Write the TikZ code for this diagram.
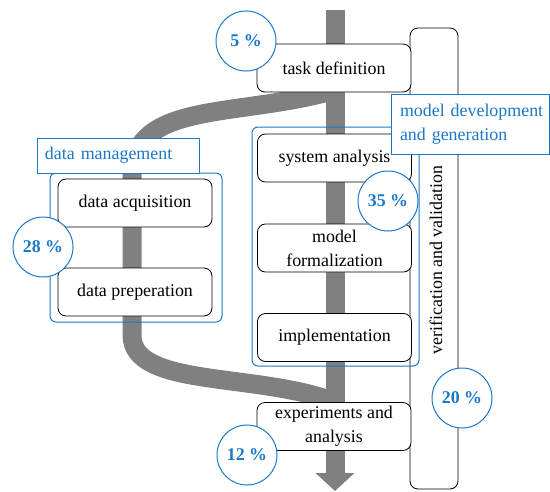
\documentclass[tikz,border=0pt]{standalone}
\usepackage{fontspec}
\setmainfont{Liberation Serif}
\usetikzlibrary{arrows.meta}
\definecolor{phaseblue}{RGB}{26,120,200}
\begin{document}
\begin{tikzpicture}[x=1pt, y={(0pt,-1pt)}, font=\fontsize{17.9}{24}\selectfont]
    \useasboundingbox (0,0) rectangle (550,491);

    \coordinate (top) at (335,10);
    \coordinate (bottom) at (335,491);
    \coordinate (fork) at (335,90);
    \coordinate (dmtop) at (132,175);
    \coordinate (dmbot) at (132,335);
    \coordinate (join) at (335,402);

    % process flow
    \draw[line width=19pt, gray, -{Triangle[width=38pt, length=18pt]}] (top) -- (bottom);
    \draw[line width=19pt, gray] (fork) .. controls (240,118) and (132,100) .. (dmtop) -- (dmbot)
        .. controls (132,388) and (255,372) .. (join);

    \draw[rounded corners=8pt, fill=white, line width=0.8pt] (410,28) rectangle (458,489);
    \node[rotate=90] (vv) at (436,260) {verification and validation};

    \begin{scope}[
            every node/.style={draw, fill=white, rounded corners=8pt, line width=0.8pt,
                minimum width=154pt, minimum height=48pt, align=center, inner sep=2pt}
        ]
        \node (task) at (334,68) {task definition};
        \node (acq) at (135,203) {data acquisition};
        \node (prep) at (135,292) {data preperation};
        \node (sys) at (334.5,158) {system analysis};
        \node (form) at (334.5,248) {model\\formalization};
        \node (impl) at (334.5,337.5) {implementation};
        \node (exp) at (334,426.5) {experiments and\\analysis};
    \end{scope}

    % phase groups
    \begin{scope}[every node/.style={draw=phaseblue, line width=1pt, rounded corners=6pt, inner sep=0pt}]
        \node[minimum width=172pt, minimum height=149pt] (dm) at (136,247.5) {};
        \node[minimum width=167pt, minimum height=239pt] (md) at (335.5,246.5) {};
    \end{scope}

    \begin{scope}[every node/.style={draw=phaseblue, fill=white, text=phaseblue, line width=1pt, align=left}]
        \node[text width=146pt, inner xsep=8pt, minimum height=35pt] (dmlabel) at (118,155.5) {data management};
        \node[text width=150pt, inner xsep=4pt, minimum height=60pt] (mdlabel) at (470,124) {\hspace*{5pt}model development\\\hspace*{5pt}and generation};
    \end{scope}

    % effort shares
    \begin{scope}[every node/.style={circle, draw=phaseblue, fill=white, text=phaseblue, line width=1pt,
                minimum size=60pt, inner sep=0pt, font=\fontsize{17.9}{24}\selectfont\bfseries}]
        \node (p5) at (246,41) {5 \%};
        \node (p28) at (43,247) {28 \%};
        \node (p35) at (388,201) {35 \%};
        \node (p12) at (247,455) {12 \%};
        \node (p20) at (462,398) {20 \%};
    \end{scope}
\end{tikzpicture}
\end{document}
